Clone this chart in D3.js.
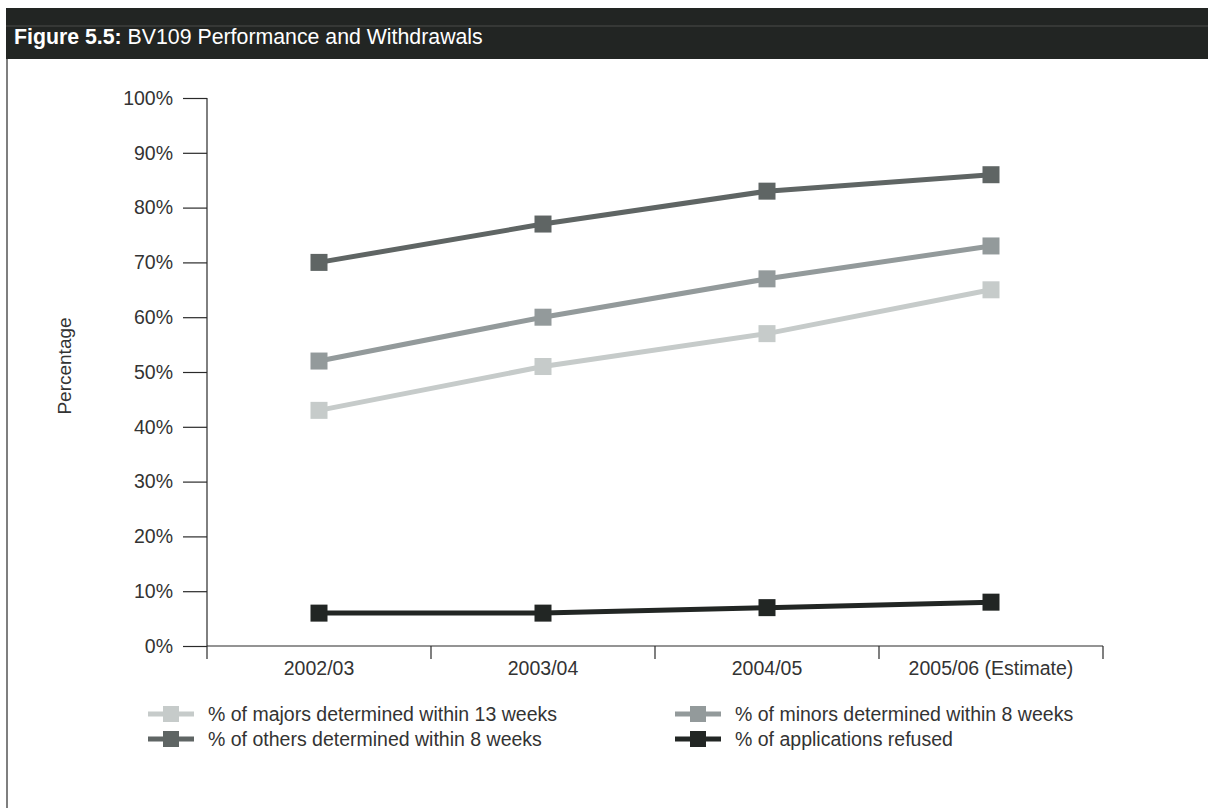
<!DOCTYPE html>
<html>
<head>
<meta charset="utf-8">
<script src="https://cdn.jsdelivr.net/npm/d3@7"></script>
<style>
  html, body { margin: 0; padding: 0; background: #fff; }
  svg { display: block; }
  text { font-family: "Liberation Sans", Arial, Helvetica, sans-serif; }
</style>
</head>
<body>
<svg id="chart" width="1208" height="808"></svg>
<script>
// Reporting years on the x axis
const years = ["2002/03", "2003/04", "2004/05", "2005/06 (Estimate)"];

// Series values (percent)
const majors13 = [43, 51, 57, 65];
const minors8 = [52, 60, 67, 73];
const others8 = [70, 77, 83, 86];
const refused = [6, 6, 7, 8];

const seriesNames = [
  "% of majors determined within 13 weeks",
  "% of minors determined within 8 weeks",
  "% of others determined within 8 weeks",
  "% of applications refused"
];
const seriesColors = ["#c6cbca", "#939a9b", "#5f6564", "#222624"];

const yTicks = [0, 10, 20, 30, 40, 50, 60, 70, 80, 90, 100];

const series = [majors13, minors8, others8, refused].map((values, i) => ({
  name: seriesNames[i],
  color: seriesColors[i],
  values
}));

const svg = d3.select("#chart");

// Header bar and frame
svg.append("rect").attr("x", 6).attr("y", 8).attr("width", 1202).attr("height", 51).attr("fill", "#222523");
svg.append("line").attr("x1", 6).attr("x2", 1208).attr("y1", 26).attr("y2", 26)
  .attr("stroke", "#4a4d4b").attr("stroke-width", 1);
svg.append("line").attr("x1", 7).attr("x2", 7).attr("y1", 59).attr("y2", 808)
  .attr("stroke", "#555").attr("stroke-width", 1.5);

const title = svg.append("text").attr("x", 14).attr("y", 44)
  .attr("fill", "#fff").attr("font-size", 21.3);
title.append("tspan").attr("font-weight", "bold").text("Figure 5.5:");
title.append("tspan").text(" BV109 Performance and Withdrawals");

// Plot area
const plotLeft = 207, plotRight = 1103, plotTop = 98, plotBottom = 646;
const x = d3.scaleBand().domain(years).range([plotLeft, plotRight]);
const y = d3.scaleLinear().domain([0, 100]).range([plotBottom, plotTop]);

const axisColor = "#2a2a2a";
const labelColor = "#333";
const fontSize = 19.5;

// Y axis
const yAxis = svg.append("g").attr("transform", `translate(${plotLeft},0)`)
  .call(d3.axisLeft(y).tickValues(yTicks).tickFormat(d => d + "%").tickSize(24).tickPadding(10));
yAxis.select(".domain").remove();
yAxis.append("line").attr("x1", 0).attr("x2", 0).attr("y1", plotTop).attr("y2", plotBottom)
  .attr("stroke", axisColor).attr("stroke-width", 1.2);
yAxis.selectAll(".tick line").attr("stroke", axisColor).attr("stroke-width", 1.2);
yAxis.selectAll(".tick text").attr("fill", labelColor).attr("font-size", fontSize)
  .attr("font-family", "Liberation Sans, Arial, sans-serif");

// X axis (ticks at category boundaries)
const xAxis = svg.append("g").attr("transform", `translate(0,${plotBottom})`);
xAxis.append("line").attr("x1", plotLeft).attr("x2", plotRight).attr("y1", 0).attr("y2", 0)
  .attr("stroke", axisColor).attr("stroke-width", 1.2);
const boundaries = years.map(d => x(d)).concat([x(years[years.length - 1]) + x.bandwidth()]);
xAxis.selectAll("line.bnd").data(boundaries).join("line").attr("class", "bnd")
  .attr("x1", d => d).attr("x2", d => d).attr("y1", 0).attr("y2", 13)
  .attr("stroke", axisColor).attr("stroke-width", 1.2);
xAxis.selectAll("text.cat").data(years).join("text").attr("class", "cat")
  .attr("x", d => x(d) + x.bandwidth() / 2).attr("y", 29)
  .attr("text-anchor", "middle").attr("fill", labelColor).attr("font-size", fontSize)
  .text(d => d);

// Y axis title
svg.append("text").attr("transform", "translate(71,366) rotate(-90)")
  .attr("text-anchor", "middle").attr("fill", labelColor).attr("font-size", 19)
  .text("Percentage");

// Lines and square markers
const cx = d => x(d) + x.bandwidth() / 2;
const line = d3.line().x((v, i) => cx(years[i])).y(v => y(v));
const markerSize = 17;

const g = svg.append("g");
series.forEach(s => {
  g.append("path").attr("d", line(s.values)).attr("fill", "none")
    .attr("stroke", s.color).attr("stroke-width", 5);
  g.selectAll(null).data(s.values).join("rect")
    .attr("x", (v, i) => cx(years[i]) - markerSize / 2)
    .attr("y", v => y(v) - markerSize / 2)
    .attr("width", markerSize).attr("height", markerSize)
    .attr("fill", s.color);
});

// Legend, two columns
const legendPos = [
  { x: 148, y: 714 }, { x: 675, y: 714 },
  { x: 148, y: 739 }, { x: 675, y: 739 }
];
series.forEach((s, i) => {
  const p = legendPos[i];
  const lg = svg.append("g").attr("transform", `translate(${p.x},${p.y})`);
  lg.append("line").attr("x1", 0).attr("x2", 46).attr("y1", 0).attr("y2", 0)
    .attr("stroke", s.color).attr("stroke-width", 5);
  lg.append("rect").attr("x", 15).attr("y", -8).attr("width", 16).attr("height", 16)
    .attr("fill", s.color);
  lg.append("text").attr("x", 60).attr("y", 7).attr("fill", labelColor)
    .attr("font-size", fontSize).text(s.name);
});
</script>
</body>
</html>
